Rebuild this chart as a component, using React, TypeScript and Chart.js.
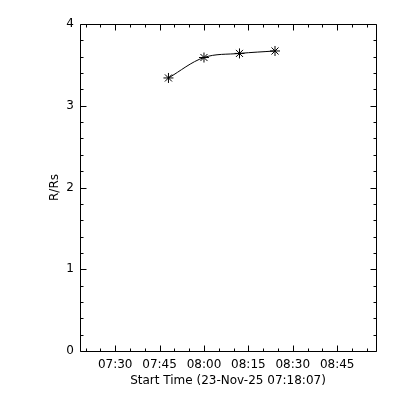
import React, { useEffect, useRef } from "react";
import { Chart, registerables } from "chart.js";

Chart.register(...registerables);

const startDate = "23-Nov-25";
const startTime = "07:18:07";
const obsTimes = ["07:48", "08:00", "08:12", "08:24"];
const heights = [3.34, 3.59, 3.64, 3.67];
const xTickLabels = ["07:30", "07:45", "08:00", "08:15", "08:30", "08:45"];
const yTickValues = [0, 1, 2, 3, 4];
const yLabel = "R/Rs";
const spanMinutes = 100;

function toMin(s: string): number {
  const p = s.split(":").map(Number);
  return p[0] * 60 + p[1] + (p[2] || 0) / 60;
}
function fmt(m: number): string {
  const h = Math.floor(m / 60 + 1e-9);
  const mm = Math.round(m - h * 60);
  return String(h).padStart(2, "0") + ":" + String(mm).padStart(2, "0");
}

const FONT = { family: "'DejaVu Sans', sans-serif", size: 12 };

const framePlugin = {
  id: "frame",
  afterDraw(chart: any) {
    const { ctx, chartArea: a, scales } = chart;
    const x = scales.x;
    const y = scales.y;
    const L = Math.round(a.left) + 0.5;
    const R = Math.round(a.right) + 0.5;
    const T = Math.round(a.top) + 0.5;
    const B = Math.round(a.bottom) + 0.5;
    ctx.save();
    ctx.strokeStyle = "#000";
    ctx.lineWidth = 1;
    ctx.beginPath();
    ctx.rect(L, T, R - L, B - T);
    const seg = (x1: number, y1: number, x2: number, y2: number) => {
      ctx.moveTo(x1, y1);
      ctx.lineTo(x2, y2);
    };
    for (let m = Math.ceil(x.min / 5) * 5; m <= x.max; m += 5) {
      const px = Math.round(x.getPixelForValue(m)) + 0.5;
      const len = m % 15 === 0 ? 6 : 3;
      seg(px, B, px, B - len);
      seg(px, T, px, T + len);
    }
    for (let i = 0; i <= 20; i++) {
      const v = i * 0.2;
      const py = Math.round(y.getPixelForValue(v)) + 0.5;
      const len = i % 5 === 0 ? 6 : 3;
      seg(L, py, L + len, py);
      seg(R, py, R - len, py);
    }
    ctx.stroke();
    ctx.restore();
  },
};

export default function App() {
  const ref = useRef<HTMLCanvasElement | null>(null);
  useEffect(() => {
    if (!ref.current) return;
    const xMin = toMin(startTime);
    const xMax = xMin + spanMinutes;
    const tickVals = xTickLabels.map(toMin);
    const chart = new Chart(ref.current, {
      type: "line",
      data: {
        datasets: [
          {
            data: obsTimes.map((t, i) => ({ x: toMin(t), y: heights[i] })),
            borderColor: "#000",
            borderWidth: 1,
            pointStyle: "star",
            pointRadius: 5,
            pointBorderColor: "#000",
            pointBorderWidth: 1,
            pointBackgroundColor: "#000",
            tension: 0.35,
            fill: false,
          },
        ],
      },
      options: {
        animation: false,
        responsive: false,
        events: [],
        layout: { padding: { left: 0, right: 24, top: 24, bottom: 0 } },
        plugins: { legend: { display: false }, tooltip: { enabled: false } },
        scales: {
          x: {
            type: "linear",
            min: xMin,
            max: xMax,
            grid: { display: false, drawTicks: false },
            border: { display: false },
            afterBuildTicks: (s: any) => {
              s.ticks = tickVals.map((v) => ({ value: v }));
            },
            afterFit: (s: any) => {
              s.height = 49;
            },
            ticks: {
              color: "#000",
              font: FONT,
              padding: 7,
              maxRotation: 0,
              autoSkip: false,
              callback: (v: any) => fmt(Number(v)),
            },
            title: {
              display: true,
              text: "Start Time (" + startDate + " " + startTime + ")",
              color: "#000",
              font: FONT,
              padding: { top: 0, bottom: 12 },
            },
          },
          y: {
            type: "linear",
            min: 0,
            max: 4,
            grid: { display: false, drawTicks: false },
            border: { display: false },
            afterBuildTicks: (s: any) => {
              s.ticks = yTickValues.map((v) => ({ value: v }));
            },
            afterFit: (s: any) => {
              s.width = 80;
            },
            ticks: {
              color: "#000",
              font: FONT,
              padding: 6,
              callback: (v: any) => String(v),
            },
            title: {
              display: true,
              text: yLabel,
              color: "#000",
              font: FONT,
              padding: { top: 48, bottom: 0 },
            },
          },
        },
      },
      plugins: [framePlugin],
    } as any);
    return () => chart.destroy();
  }, []);
  return (
    <div style={{ position: "absolute", left: 0, top: 0, width: 400, height: 400, background: "#fff" }}>
      <canvas ref={ref} width={400} height={400} style={{ width: 400, height: 400 }} />
    </div>
  );
}
